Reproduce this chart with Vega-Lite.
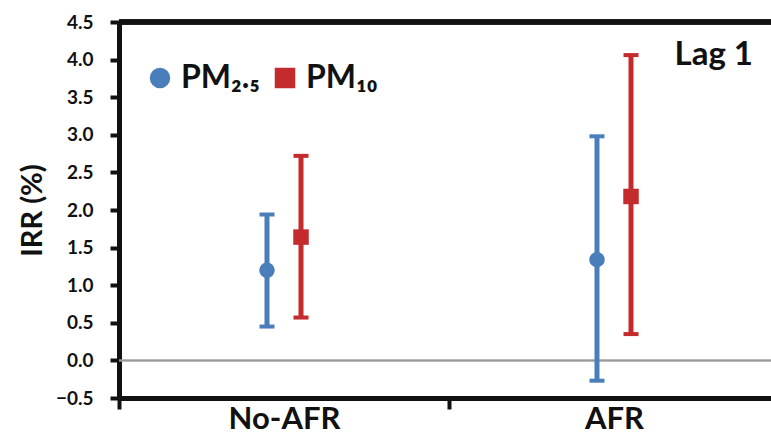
{
  "$schema": "https://vega.github.io/schema/vega-lite/v6.json",
  "width": 652,
  "height": 376,
  "autosize": {"type": "none"},
  "padding": {"left": 119, "top": 22, "right": 0, "bottom": 40},
  "background": "white",
  "config": {
    "view": {"stroke": null},
    "font": "Lato",
    "axisY": {"labelOverlap": false, "labelBound": false, "labelFlush": false, "grid": false, "tickCount": 20}
  },
  "title": {"text": "Lag 1", "anchor": "end", "orient": "top", "frame": "group", "font": "Lato", "fontSize": 33, "fontWeight": "bold", "color": "#111111", "baseline": "alphabetic", "offset": -85, "dx": -18},
  "data": {"values": [
    {"group": "No-AFR", "pm": "PM2.5", "irr": 1.2, "lo": 0.45, "hi": 1.94},
    {"group": "No-AFR", "pm": "PM10", "irr": 1.64, "lo": 0.57, "hi": 2.72},
    {"group": "AFR", "pm": "PM2.5", "irr": 1.34, "lo": -0.27, "hi": 2.98},
    {"group": "AFR", "pm": "PM10", "irr": 2.18, "lo": 0.35, "hi": 4.06}
  ]},
  "layer": [
    {
      "mark": {"type": "rule", "color": "#9a9a9a", "strokeWidth": 1.5},
      "encoding": {"y": {"datum": 0, "type": "quantitative", "scale": {"domain": [-0.5, 4.5]}}}
    },
    {
      "mark": {"type": "rule", "color": "#111111", "strokeWidth": 5},
      "encoding": {"y": {"datum": 4.5, "type": "quantitative"}}
    },
    {
      "mark": {"type": "rule", "strokeWidth": 5, "opacity": 1},
      "encoding": {
        "x": {"field": "group", "type": "nominal", "sort": ["No-AFR", "AFR"], "scale": {"paddingInner": 0, "paddingOuter": 0, "range": [0, 660]}},
        "xOffset": {"field": "pm", "type": "nominal", "scale": {"domain": ["_a", "_b", "_c", "PM2.5", "PM10", "_d", "_e", "_f"], "paddingInner": 0, "paddingOuter": 0.85}},
        "y": {"field": "lo", "type": "quantitative"},
        "y2": {"field": "hi"},
        "color": {"field": "pm", "type": "nominal", "scale": {"domain": ["PM2.5", "PM10"], "range": ["#4a7ebb", "#c42b2d"]}}
      }
    },
    {
      "mark": {"type": "tick", "size": 15, "thickness": 4, "opacity": 1},
      "encoding": {
        "x": {"field": "group", "type": "nominal", "sort": ["No-AFR", "AFR"]},
        "xOffset": {"field": "pm", "type": "nominal"},
        "y": {"field": "lo", "type": "quantitative"},
        "color": {"field": "pm", "type": "nominal"}
      }
    },
    {
      "mark": {"type": "tick", "size": 15, "thickness": 4, "opacity": 1},
      "encoding": {
        "x": {"field": "group", "type": "nominal", "sort": ["No-AFR", "AFR"]},
        "xOffset": {"field": "pm", "type": "nominal"},
        "y": {"field": "hi", "type": "quantitative"},
        "color": {"field": "pm", "type": "nominal"}
      }
    },
    {
      "mark": {"type": "point", "filled": true, "opacity": 1, "size": 240},
      "encoding": {
        "x": {"field": "group", "type": "nominal", "sort": ["No-AFR", "AFR"], "title": null,
          "axis": {"domainColor": "#111111", "domainWidth": 5, "tickBand": "extent", "tickColor": "#111111", "tickWidth": 4, "tickSize": 11, "labelFont": "Lato", "labelFontSize": 31, "labelFontWeight": "bold", "labelColor": "#111111", "labelPadding": 10, "labelAngle": 0, "labelAlign": "center"}},
        "xOffset": {"field": "pm", "type": "nominal"},
        "y": {"field": "irr", "type": "quantitative", "title": "IRR (%)",
          "axis": {"values": [-0.5, 0, 0.5, 1, 1.5, 2, 2.5, 3, 3.5, 4, 4.5], "tickCount": 20, "format": ".1f", "labelOverlap": false, "domainColor": "#111111", "domainWidth": 5, "tickColor": "#111111", "tickWidth": 4, "tickSize": 9, "labelFont": "Lato", "labelFontSize": 19, "labelFontWeight": "bold", "labelColor": "#111111", "labelPadding": 17, "titleFont": "Lato", "titleFontSize": 29, "titleFontWeight": "bold", "titleColor": "#111111", "titlePadding": 8}},
        "color": {"field": "pm", "type": "nominal",
          "legend": {"orient": "none", "legendX": 25, "legendY": 40, "direction": "horizontal", "title": null, "padding": 0, "symbolSize": 420, "symbolStrokeWidth": 0, "symbolOpacity": 1, "labelFont": "Lato", "labelFontSize": 32, "labelFontWeight": "bold", "labelColor": "#111111", "labelExpr": "datum.label == 'PM2.5' ? 'PM₂.₅' : 'PM₁₀'", "columnPadding": 8, "labelOffset": 5,
            "encode": {"symbols": {"update": {"opacity": {"value": 1}, "fillOpacity": {"value": 1}}}}}},
        "shape": {"field": "pm", "type": "nominal", "scale": {"domain": ["PM2.5", "PM10"], "range": ["circle", "square"]},
          "legend": {"orient": "none", "legendX": 25, "legendY": 40, "direction": "horizontal", "title": null, "padding": 0, "symbolSize": 420, "symbolStrokeWidth": 0, "symbolOpacity": 1, "labelFont": "Lato", "labelFontSize": 32, "labelFontWeight": "bold", "labelColor": "#111111", "labelExpr": "datum.label == 'PM2.5' ? 'PM₂.₅' : 'PM₁₀'", "columnPadding": 8, "labelOffset": 5,
            "encode": {"symbols": {"update": {"opacity": {"value": 1}, "fillOpacity": {"value": 1}}}}}}
      }
    }
  ]
}
